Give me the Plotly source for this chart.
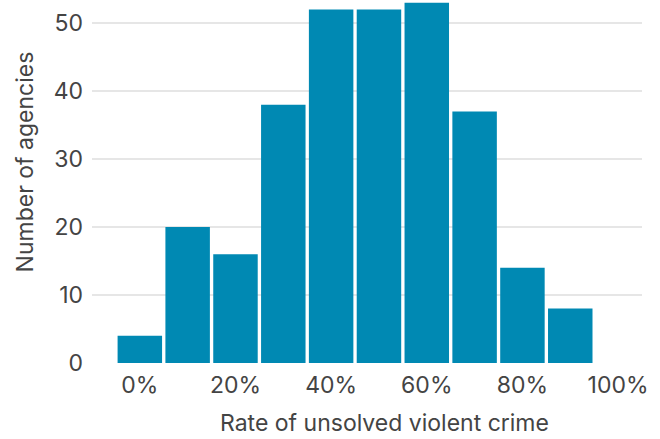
import plotly.graph_objects as go

bin_centers = [0, 10, 20, 30, 40, 50, 60, 70, 80, 90]
counts = [4, 20, 16, 38, 52, 52, 53, 37, 14, 8]
x_ticks = [0, 20, 40, 60, 80, 100]
x_tick_labels = ["0%", "20%", "40%", "60%", "80%", "100%"]
y_ticks = [0, 10, 20, 30, 40, 50]

FONT = "Inter"
TXT = "#444444"
FS = 23

fig = go.Figure(go.Bar(
    x=bin_centers, y=counts,
    marker=dict(color="#0089b3", line=dict(width=0)),
    width=9.3,
))

fig.update_layout(
    width=660, height=439,
    margin=dict(l=92, r=18, t=0, b=76),
    paper_bgcolor="white", plot_bgcolor="white",
    font=dict(family=FONT, size=FS, color=TXT),
    showlegend=False,
    xaxis=dict(range=[-10, 105], tickvals=x_ticks, ticktext=x_tick_labels,
               showgrid=False, zeroline=False, showline=False, ticks="",
               ticklabelstandoff=6),
    yaxis=dict(range=[0, 53.4], tickvals=y_ticks, showgrid=True,
               gridcolor="#e6e6e6", gridwidth=2, zeroline=False, showline=False,
               ticks="", ticklabelstandoff=8),
    annotations=[
        dict(text="Number of agencies", xref="paper", yref="paper",
             x=-0.122, y=0.555, textangle=-90, showarrow=False,
             xanchor="center", yanchor="middle", font=dict(size=FS, color=TXT)),
        dict(text="Rate of unsolved violent crime", xref="paper", yref="paper",
             x=0.532, y=-0.165, showarrow=False, xanchor="center", yanchor="middle",
             font=dict(size=FS, color=TXT)),
    ],
)

fig.write_html("out.html", config={"displayModeBar": False},
               post_script="document.body.style.margin='0';document.body.style.padding='0';")
